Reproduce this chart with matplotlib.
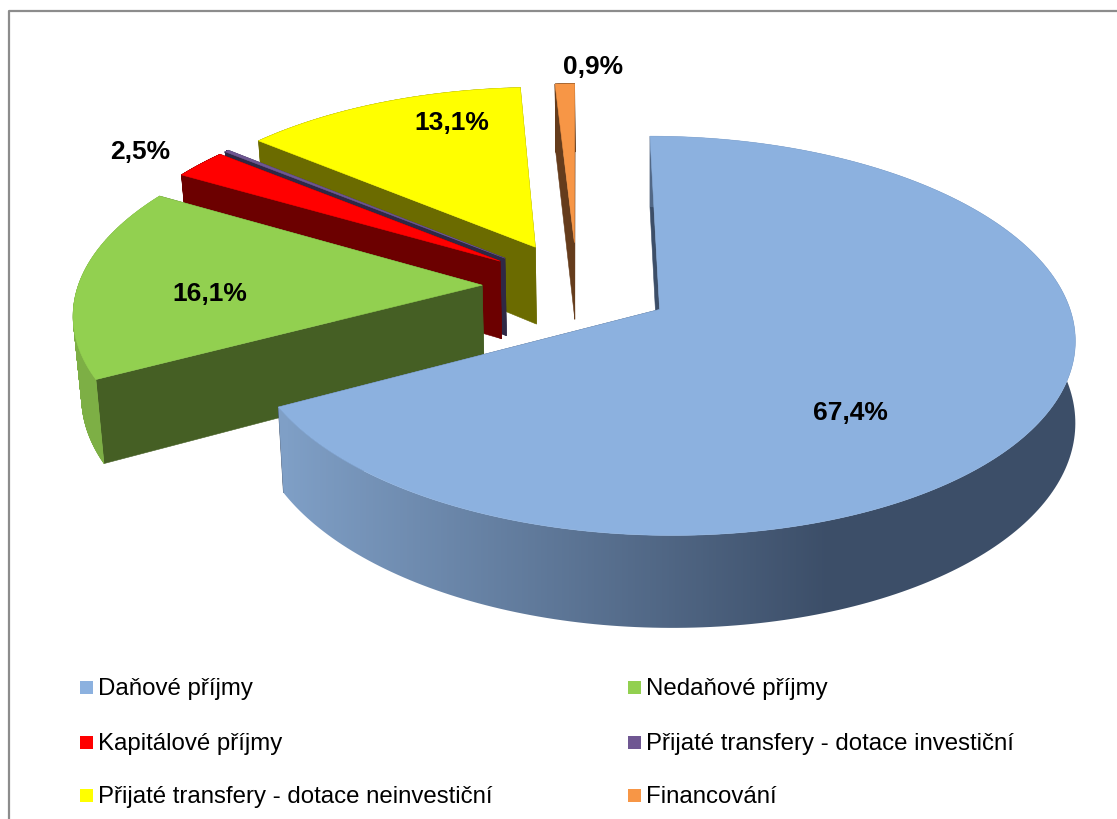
import numpy as np
import matplotlib
matplotlib.use("Agg")
import matplotlib.pyplot as plt
from matplotlib.collections import PolyCollection
from matplotlib.colors import LinearSegmentedColormap
from matplotlib.patches import Polygon, Rectangle

plt.rcParams["font.family"] = ["Liberation Sans", "DejaVu Sans"]

categories = ["Daňové příjmy", "Nedaňové příjmy", "Kapitálové příjmy",
              "Přijaté transfery - dotace investiční",
              "Přijaté transfery - dotace neinvestiční", "Financování"]
values = [67.4, 16.1, 2.5, 0.2, 13.1, 0.9]
labels = ["67,4%", "16,1%", "2,5%", "", "13,1%", "0,9%"]

TOP = ["#8CB1DF", "#92D050", "#FF0000", "#6F5792", "#FFFF00", "#F79646"]
FACE = ["#3C4E68", "#455F24", "#6C0000", "#2F2845", "#6B6B00", "#653C1C"]
RIM = ["#7F9FC6", "#7DAF45", "#6C0000", "#2F2845", "#6B6B00", "#653C1C"]

# camera, fitted by eye to the picture
CX, CY = 577, 286
A, B, K = 404, 190, 0.13
EXPLODE = 0.235
DEPTH = 79
SHRINK = 0.016
VANISH_X = 600


def project(u, v, z=0.0):
    w = 1 - K * v
    x = CX + A * u / w
    # lower rim leans right on the left side only
    x = x + np.clip(VANISH_X - x, 0, None) * SHRINK * z
    y = CY + B * v / w + DEPTH * z / w
    return np.column_stack([x, y])


fig = plt.figure(figsize=(11.17, 8.19), dpi=100)
ax = fig.add_axes([0, 0, 1, 1])
ax.axis("off")

ax.plot([9, 9, 1117], [819, 11, 11], color="#8C8C8C", lw=1.6)

total = sum(values)
edges = np.cumsum([0] + values) / total * 2 * np.pi
label_pos = [(850, 413), (210, 294), (140, 152), None, (452, 123), (593, 67)]

blue_cmap = LinearSegmentedColormap.from_list("rim", [RIM[0], FACE[0]])

# back to front so nearer slices cover the others
for i in [5, 4, 3, 2, 1, 0]:
    t0, t1 = edges[i], edges[i + 1]
    mid = (t0 + t1) / 2
    cu, cv = EXPLODE * np.sin(mid), -EXPLODE * np.cos(mid)
    t = np.linspace(t0, t1, 240)
    u = cu + np.sin(t)
    v = cv - np.cos(t)
    top = project(u, v)
    low = project(u, v, 1.0)
    apex = project(np.array([cu]), np.array([cv]))
    apex_low = project(np.array([cu]), np.array([cv]), 1.0)

    for end_top, end_low in [(top[0], low[0]), (top[-1], low[-1])]:
        ax.add_patch(Polygon([apex[0], end_top, end_low, apex_low[0]],
                             fc=FACE[i], ec=FACE[i], lw=0.4))

    if i == 0:
        # blue rim runs from mid blue on the left to slate on the right
        rim = Polygon(np.vstack([top, low[::-1]]), fc="none", ec="none", transform=ax.transData)
        ax.add_patch(rim)
        grad = np.clip((np.arange(1117) - 285) / (830 - 285), 0, 1)[None, :]
        img = ax.imshow(grad, cmap=blue_cmap, extent=(0, 1117, 819, 0), aspect="auto", zorder=5)
        img.set_clip_path(rim)
    else:
        quads = [[top[j], top[j + 1], low[j + 1], low[j]] for j in range(len(t) - 1)]
        ax.add_collection(PolyCollection(quads, facecolors=RIM[i], edgecolors=RIM[i], linewidths=0.4))

    ax.add_patch(Polygon(np.vstack([apex, top]), fc=TOP[i], ec=TOP[i], lw=0.4, zorder=6 if i == 0 else 1))

    if labels[i]:
        ax.text(*label_pos[i], labels[i], fontsize=19, fontweight="bold",
                ha="center", va="center", color="black", zorder=10)

leg_x = [80, 628]
leg_y = [689, 744, 797]
for i, name in enumerate(categories):
    lx, ly = leg_x[i % 2], leg_y[i // 2]
    ax.add_patch(Rectangle((lx, ly - 8), 13, 13, fc=TOP[i], ec="none"))
    ax.text(lx + 17.5, ly, name, fontsize=17.3, ha="left", va="center", color="black")

ax.set_xlim(0, 1117)
ax.set_ylim(819, 0)

fig.savefig("out.png", dpi=100)
